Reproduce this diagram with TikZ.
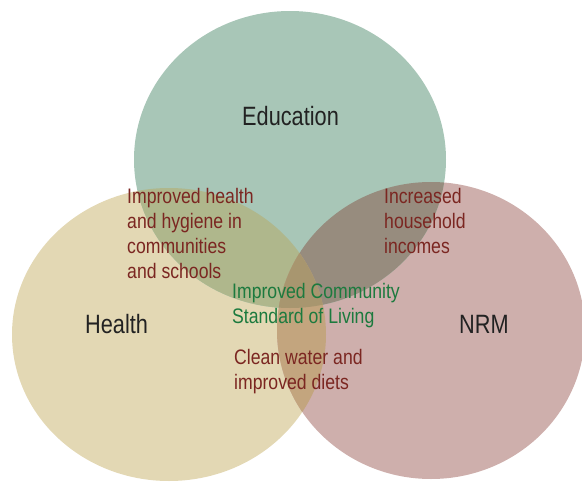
\documentclass[tikz,border=0pt]{standalone}
\usepackage{fontspec}
\setmainfont[FakeStretch=0.84]{Liberation Sans}
\newfontfamily\condBig[FakeStretch=0.82]{Liberation Sans}
\definecolor{eduC}{HTML}{A8C6B7}
\definecolor{heaC}{HTML}{E3D8B4}
\definecolor{nrmC}{HTML}{CEAFAC}
\definecolor{ehC}{HTML}{AFB78C}
\definecolor{enC}{HTML}{978C7E}
\definecolor{hnC}{HTML}{C3A57E}
\definecolor{ehnC}{HTML}{A8966F}
\definecolor{redT}{HTML}{7B2621}
\definecolor{greenT}{HTML}{1C7A3E}
\definecolor{blackT}{HTML}{222222}
\newcommand\pathEdu{(290,159.5) ellipse [x radius=156, y radius=148.5]}
\newcommand\pathHea{(169,334.5) ellipse [x radius=157, y radius=146.5]}
\newcommand\pathNrm{(431,330.5) ellipse [x radius=154, y radius=148.5]}
\tikzset{
  small/.style={font=\fontsize{21}{24}\selectfont, text=redT, anchor=base west, inner sep=0pt},
  smallg/.style={small, text=greenT},
  big/.style={font=\condBig\fontsize{26.5}{30}\selectfont, text=blackT, anchor=base west, inner sep=0pt}
}
\begin{document}
\begin{tikzpicture}[x=1pt,y=-1pt]
\useasboundingbox (0,0) rectangle (582,482);
\fill[heaC] \pathHea;
\fill[nrmC] \pathNrm;
\fill[eduC] \pathEdu;
\begin{scope}\clip \pathEdu; \fill[ehC] \pathHea; \end{scope}
\begin{scope}\clip \pathEdu; \fill[enC] \pathNrm; \end{scope}
\begin{scope}\clip \pathHea; \fill[hnC] \pathNrm; \end{scope}
\begin{scope}\clip \pathEdu; \clip \pathHea; \fill[ehnC] \pathNrm; \end{scope}

\node[big] (edu) at (242,125) {Education};
\node[big] (hea) at (85,333) {Health};
\node[big] (nrm) at (459,333) {NRM};

\node[small] (eh1) at (127,203) {Improved health};
\node[small] (eh2) at (127,228) {and hygiene in};
\node[small] (eh3) at (127,253) {communities};
\node[small] (eh4) at (127,278) {and schools};

\node[small] (en1) at (384,203) {Increased};
\node[small] (en2) at (384,228) {household};
\node[small] (en3) at (384,253) {incomes};

\node[smallg] (c1) at (232,298) {Improved Community};
\node[smallg] (c2) at (232,323) {Standard of Living};

\node[small] (hn1) at (234,364) {Clean water and};
\node[small] (hn2) at (234,389) {improved diets};
\end{tikzpicture}
\end{document}
